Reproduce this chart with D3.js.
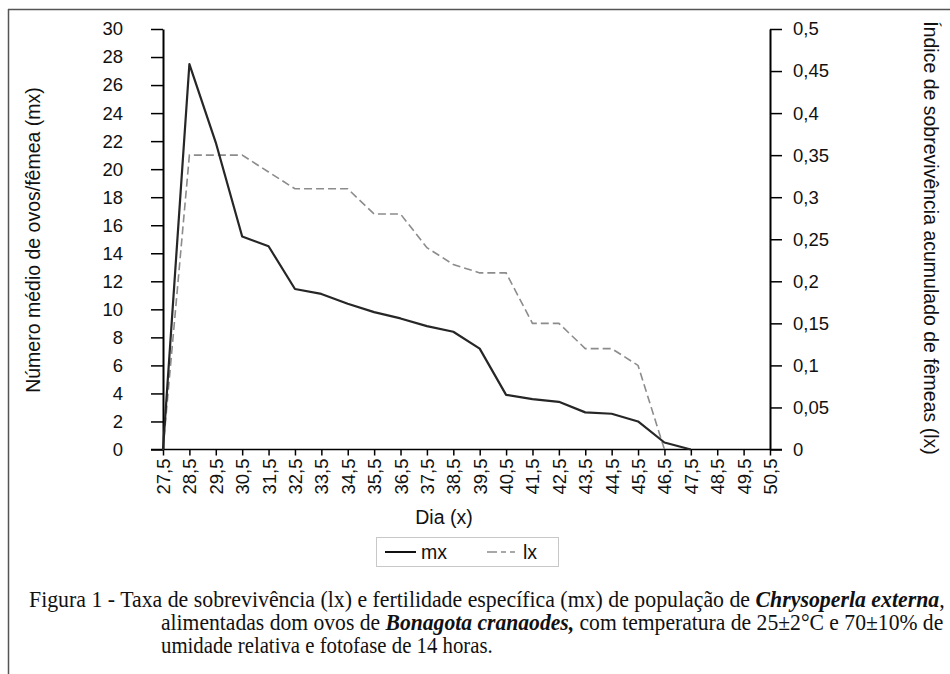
<!DOCTYPE html>
<html>
<head>
<meta charset="utf-8">
<script src="https://cdn.jsdelivr.net/npm/d3@7"></script>
<style>
  body { margin: 0; background: #fff; }
  svg { display: block; }
  text { font-family: "Liberation Sans", Arial, sans-serif; fill: #111; }
  .cap { font-family: "Liberation Serif", "Times New Roman", serif; }
</style>
</head>
<body>
<svg id="chart" width="950" height="674"></svg>
<script>
// dias (x)
var days = [27.5, 28.5, 29.5, 30.5, 31.5, 32.5, 33.5, 34.5, 35.5, 36.5, 37.5, 38.5,
            39.5, 40.5, 41.5, 42.5, 43.5, 44.5, 45.5, 46.5, 47.5, 48.5, 49.5, 50.5];

// mx - numero medio de ovos/femea (eixo esquerdo)
var mx = [0, 27.5, 21.9, 15.2, 14.5, 11.45, 11.1, 10.4, 9.8, 9.35, 8.8, 8.4,
          7.2, 3.9, 3.6, 3.4, 2.65, 2.55, 2.0, 0.5, 0];

// lx - sobrevivencia acumulada (eixo direito)
var lx = [0, 0.35, 0.35, 0.35, 0.33, 0.31, 0.31, 0.31, 0.28, 0.28, 0.24, 0.22,
          0.21, 0.21, 0.15, 0.15, 0.12, 0.12, 0.10, 0];

var leftTicks = [0, 2, 4, 6, 8, 10, 12, 14, 16, 18, 20, 22, 24, 26, 28, 30];
var rightTicks = [0, 0.05, 0.1, 0.15, 0.2, 0.25, 0.3, 0.35, 0.4, 0.45, 0.5];

var svg = d3.select("#chart");
var ptBR = d3.formatLocale({decimal: ",", thousands: ".", grouping: [3], currency: ["R$", ""]});
var fmt = function(d) { return ptBR.format("")(+d.toFixed(2)); };

// frame of the figure
svg.append("line").attr("x1", 8).attr("x2", 950).attr("y1", 9.5).attr("y2", 9.5)
  .attr("stroke", "#555").attr("stroke-width", 1.5);
svg.append("line").attr("x1", 8.5).attr("x2", 8.5).attr("y1", 9).attr("y2", 674)
  .attr("stroke", "#555").attr("stroke-width", 1.5);

var x = d3.scaleLinear().domain([27.5, 50.5]).range([163, 770]);
var yL = d3.scaleLinear().domain([0, 30]).range([449.5, 29]);
var yR = d3.scaleLinear().domain([0, 0.5]).range([449.5, 29]);

// eixo x
var gx = svg.append("g").attr("transform", "translate(0,449.5)")
  .call(d3.axisBottom(x).tickValues(days).tickSize(6).tickSizeOuter(0).tickFormat(fmt));
gx.select(".domain").remove();
gx.append("line").attr("x1", 151).attr("x2", 782).attr("stroke", "#000").attr("stroke-width", 1.5);
gx.selectAll(".tick line").attr("stroke-width", 1.5);
gx.selectAll(".tick text")
  .attr("font-size", 18.5).attr("fill", "#111")
  .attr("text-anchor", "end")
  .attr("transform", "rotate(-90)")
  .attr("x", -9).attr("y", 0).attr("dy", "0.35em");

// eixo esquerdo
var gl = svg.append("g").attr("transform", "translate(163,0)")
  .call(d3.axisLeft(yL).tickValues(leftTicks).tickSize(12).tickSizeOuter(0).tickPadding(28).tickFormat(fmt));
gl.select(".domain").attr("stroke-width", 2);
gl.selectAll(".tick line").attr("stroke-width", 1.5);
gl.selectAll(".tick text").attr("font-size", 18.5).attr("fill", "#111");

// eixo direito
var gr = svg.append("g").attr("transform", "translate(770,0)")
  .call(d3.axisRight(yR).tickValues(rightTicks).tickSize(12).tickSizeOuter(0).tickPadding(11).tickFormat(fmt));
gr.select(".domain").attr("stroke-width", 2);
gr.selectAll(".tick line").attr("stroke-width", 1.5);
gr.selectAll(".tick text").attr("font-size", 18.5).attr("fill", "#111");

// linhas
var lineL = d3.line().x(function(d, i) { return x(days[i]); }).y(function(d) { return yL(d); });
var lineR = d3.line().x(function(d, i) { return x(days[i]); }).y(function(d) { return yR(d); });

svg.append("path").datum(lx).attr("d", lineR)
  .attr("fill", "none").attr("stroke", "#8c8c8c").attr("stroke-width", 1.6)
  .attr("stroke-dasharray", "8,4");
svg.append("path").datum(mx).attr("d", lineL)
  .attr("fill", "none").attr("stroke", "#262626").attr("stroke-width", 2.2)
  .attr("stroke-linejoin", "round");

// titulos
svg.append("text").attr("transform", "translate(40,240) rotate(-90)")
  .attr("text-anchor", "middle").attr("font-size", 19.5)
  .text("Número médio de ovos/fêmea (mx)");
svg.append("text").attr("transform", "translate(924,238) rotate(90)")
  .attr("text-anchor", "middle").attr("font-size", 19.5)
  .text("Índice de sobrevivência acumulado de fêmeas (lx)");
svg.append("text").attr("x", 444).attr("y", 524)
  .attr("text-anchor", "middle").attr("font-size", 19.5)
  .text("Dia (x)");

// legenda
var leg = svg.append("g");
leg.append("rect").attr("x", 376.5).attr("y", 537.5).attr("width", 182).attr("height", 29)
  .attr("fill", "#fff").attr("stroke", "#c8c8c8").attr("stroke-width", 1);
leg.append("line").attr("x1", 385).attr("x2", 416).attr("y1", 552).attr("y2", 552)
  .attr("stroke", "#111").attr("stroke-width", 2);
leg.append("text").attr("x", 421).attr("y", 559).attr("font-size", 19.5).text("mx");
leg.append("line").attr("x1", 487).attr("x2", 519).attr("y1", 552).attr("y2", 552)
  .attr("stroke", "#8c8c8c").attr("stroke-width", 1.5).attr("stroke-dasharray", "10,4,5,4,5");
leg.append("text").attr("x", 523).attr("y", 559).attr("font-size", 19.5).text("lx");

// legenda da figura (texto)
var capLines = [
  {x: 29, y: 607, w: 916, parts: [
    ["Figura 1 - Taxa de sobrevivência (lx) e fertilidade específica (mx) de população de ", false],
    ["Chrysoperla externa", true], [",", false]]},
  {x: 161, y: 630, w: 783, parts: [
    ["alimentadas dom ovos de ", false], ["Bonagota cranaodes,", true],
    [" com temperatura de 25±2°C e 70±10% de", false]]},
  {x: 161, y: 653, w: 332, parts: [["umidade relativa e fotofase de 14 horas.", false]]}
];
capLines.forEach(function(l) {
  var t = svg.append("text").attr("class", "cap").attr("font-size", 20.5)
    .attr("xml:space", "preserve");
  l.parts.forEach(function(p) {
    var s = t.append("tspan").text(p[0]);
    if (p[1]) s.attr("font-weight", "bold").attr("font-style", "italic");
  });
  var nat = t.node().getComputedTextLength();
  var sx = l.w / nat;
  t.attr("transform", "translate(" + l.x + "," + l.y + ") scale(" + sx + ",1.1)");
});
</script>
</body>
</html>
